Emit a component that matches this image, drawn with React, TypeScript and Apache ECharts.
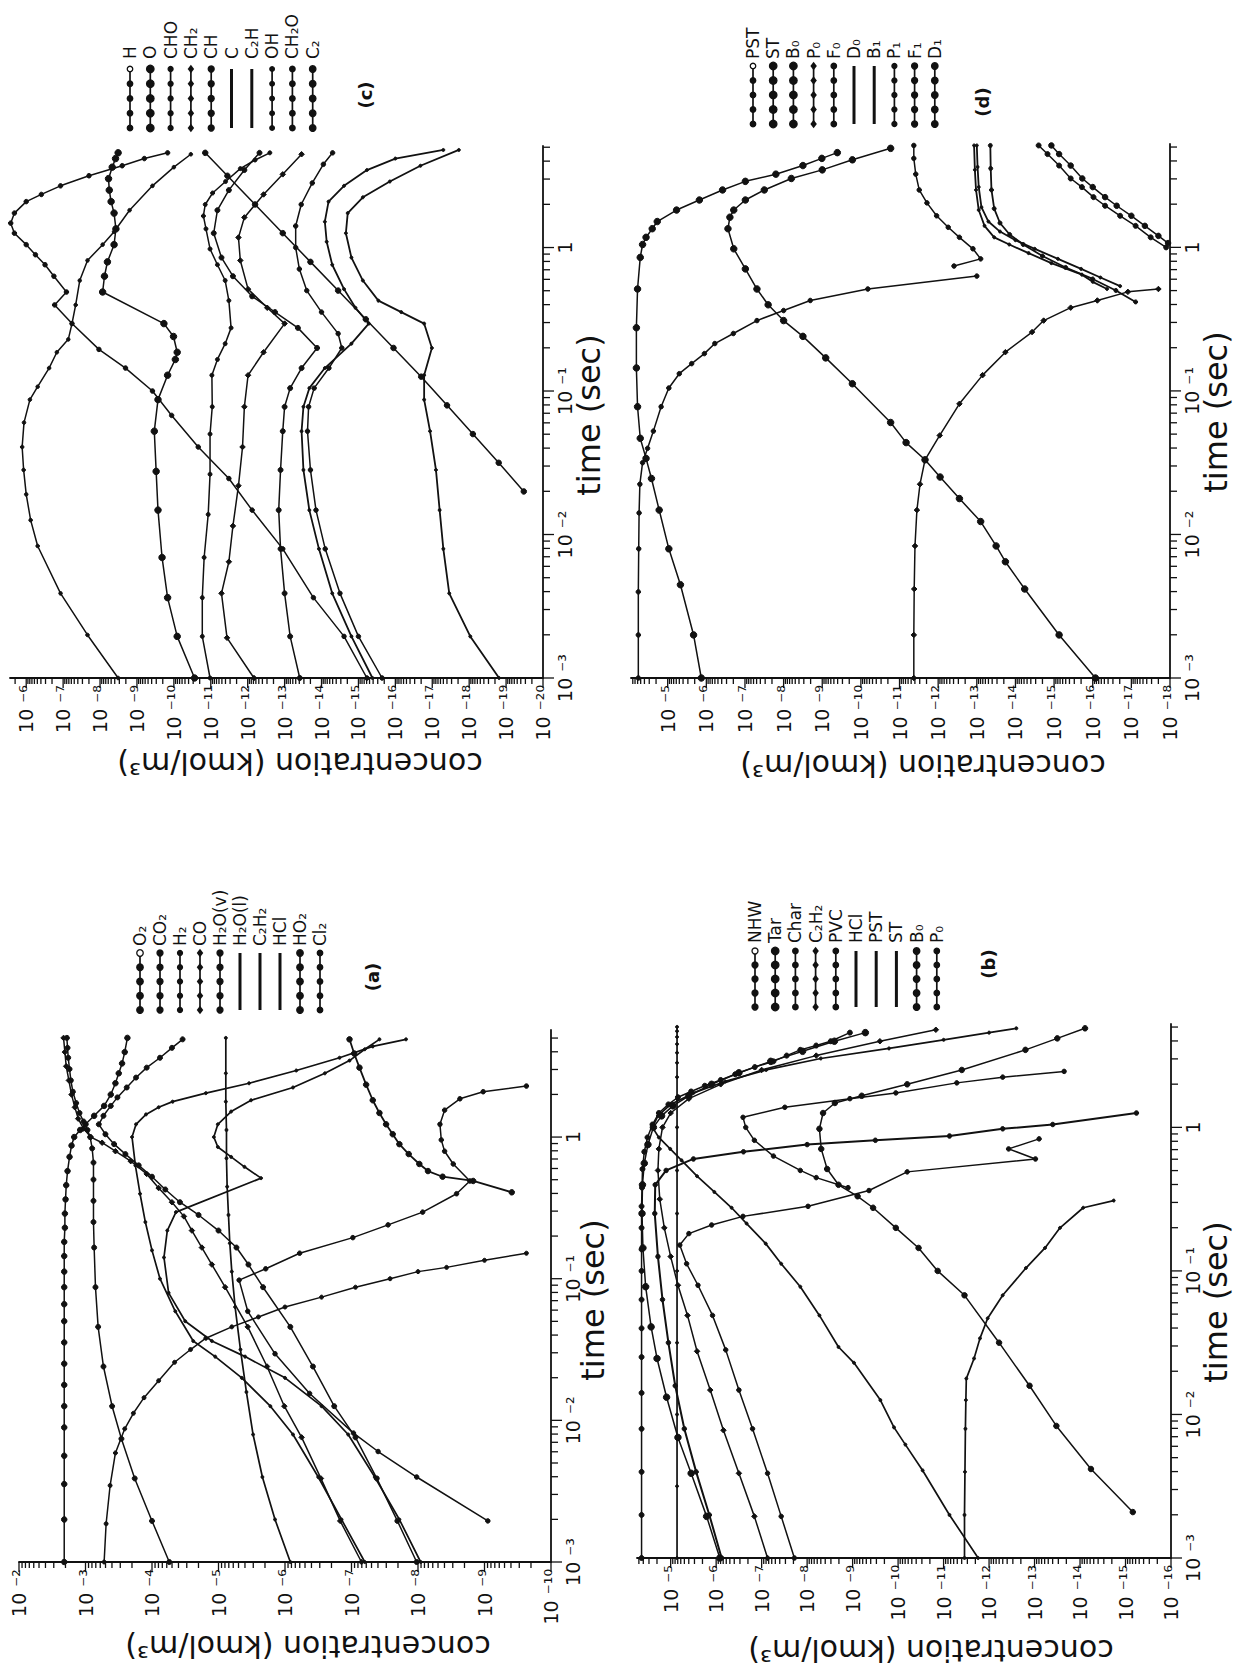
import React, { useEffect, useRef } from "react";
import * as echarts from "echarts";

// Every point is [log10 time (s), log10 concentration (kmol/m^3)].
type LP = [number, number];

// ---------------- panel (a) ----------------
const a_O2: LP[] = [[-3,-2.68],[-2.7,-2.68],[-2.45,-2.68],[-2.25,-2.68],[-2.05,-2.68],[-1.9,-2.68],[-1.75,-2.68],[-1.6,-2.68],[-1.45,-2.68],[-1.3,-2.68],[-1.18,-2.68],[-1.06,-2.68],[-0.95,-2.68],[-0.84,-2.68],[-0.74,-2.68],[-0.64,-2.69],[-0.54,-2.69],[-0.44,-2.7],[-0.34,-2.71],[-0.24,-2.73],[-0.14,-2.76],[-0.06,-2.79],[0,-2.83],[0.05,-2.92],[0.09,-3.0],[0.15,-3.13],[0.22,-3.28],[0.3,-3.38],[0.38,-3.45],[0.45,-3.5],[0.52,-3.55],[0.6,-3.59],[0.7,-3.63]];
const a_CO2: LP[] = [[-3,-4.26],[-2.71,-4.0],[-2.41,-3.74],[-2.13,-3.54],[-1.9,-3.4],[-1.62,-3.27],[-1.34,-3.19],[-1.06,-3.15],[-0.78,-3.13],[-0.6,-3.12],[-0.45,-3.12],[-0.3,-3.12],[-0.18,-3.12],[-0.08,-3.1],[0,-3.07],[0.05,-3.03],[0.11,-2.97],[0.17,-2.91],[0.24,-2.86],[0.32,-2.81],[0.4,-2.78],[0.48,-2.76],[0.56,-2.74],[0.63,-2.73],[0.7,-2.72]];
const a_H2: LP[] = [[-3,-3.28],[-2.73,-3.31],[-2.46,-3.37],[-2.23,-3.45],[-2.06,-3.59],[-1.95,-3.72],[-1.84,-3.88],[-1.72,-4.1],[-1.59,-4.34],[-1.5,-4.58],[-1.42,-4.81],[-1.34,-5.2],[-1.27,-5.6],[-1.2,-6.0],[-1.13,-6.55],[-1.06,-7.06],[-1.0,-7.58],[-0.95,-8.0],[-0.92,-8.43],[-0.87,-9.0],[-0.82,-9.63]];
const a_CO: LP[] = [[-3,-7.15],[-2.71,-6.83],[-2.41,-6.54],[-2.12,-6.25],[-1.9,-5.99],[-1.62,-5.73],[-1.34,-5.44],[-1.06,-5.1],[-0.9,-4.9],[-0.78,-4.75],[-0.66,-4.6],[-0.56,-4.48],[-0.46,-4.3],[-0.36,-4.1],[-0.26,-3.92],[-0.17,-3.68],[-0.1,-3.45],[-0.04,-3.25],[0,-3.08],[0.06,-2.97],[0.13,-2.89],[0.21,-2.84],[0.3,-2.79],[0.4,-2.75],[0.5,-2.71],[0.6,-2.69],[0.7,-2.67]];
const a_H2Ov: LP[] = [[-3,-7.98],[-2.71,-7.69],[-2.41,-7.38],[-2.12,-7.06],[-1.9,-6.74],[-1.62,-6.42],[-1.34,-6.08],[-1.06,-5.67],[-0.9,-5.45],[-0.78,-5.27],[-0.66,-5.0],[-0.55,-4.7],[-0.46,-4.42],[-0.37,-4.2],[-0.28,-4.0],[-0.2,-3.8],[-0.12,-3.6],[-0.05,-3.43],[0.02,-3.3],[0.09,-3.2],[0.15,-3.27],[0.22,-3.38],[0.28,-3.48],[0.35,-3.62],[0.42,-3.76],[0.49,-3.92],[0.56,-4.12],[0.63,-4.3],[0.69,-4.46]];
const a_H2Ol: LP[] = [[-3,-6.08],[-2.7,-5.85],[-2.4,-5.66],[-2.1,-5.52],[-1.8,-5.42],[-1.5,-5.33],[-1.2,-5.25],[-0.95,-5.2],[-0.75,-5.17],[-0.55,-5.15],[-0.35,-5.13],[-0.15,-5.12],[0.05,-5.12],[0.25,-5.11],[0.45,-5.11],[0.7,-5.11]];
const a_C2H2: LP[] = [[-3,-7.2],[-2.7,-6.85],[-2.4,-6.5],[-2.1,-6.12],[-1.9,-5.78],[-1.7,-5.35],[-1.55,-4.95],[-1.44,-4.62],[-1.23,-4.35],[-1.0,-4.12],[-0.8,-4.0],[-0.6,-3.9],[-0.4,-3.82],[-0.2,-3.75],[0,-3.7],[0.09,-3.76],[0.16,-3.91],[0.21,-4.1],[0.25,-4.31],[0.31,-4.81],[0.38,-5.46],[0.47,-6.17],[0.56,-6.82],[0.64,-7.32],[0.69,-7.82]];
const a_HCl: LP[] = [[-3,-8.04],[-2.7,-7.72],[-2.4,-7.35],[-2.1,-6.95],[-1.9,-6.55],[-1.7,-6.0],[-1.55,-5.4],[-1.44,-4.9],[-1.3,-4.5],[-1.1,-4.25],[-0.85,-4.18],[-0.66,-4.23],[-0.53,-4.36],[-0.29,-5.64],[-0.21,-5.39],[-0.14,-5.19],[-0.07,-4.99],[0,-4.93],[0.09,-4.99],[0.18,-5.19],[0.26,-5.49],[0.35,-6.12],[0.45,-6.6],[0.54,-6.97],[0.62,-7.2],[0.69,-7.42]];
const a_HO2: LP[] = [[-0.39,-9.41],[-0.31,-8.83],[-0.28,-8.37],[-0.24,-8.15],[-0.19,-8.02],[-0.12,-7.86],[-0.05,-7.72],[0.02,-7.62],[0.09,-7.52],[0.17,-7.42],[0.26,-7.32],[0.37,-7.22],[0.49,-7.12],[0.59,-7.04],[0.69,-6.97]];
const a_Cl2: LP[] = [[-2.71,-9.05],[-2.4,-7.98],[-2.22,-7.4],[-2.09,-7.03],[-1.81,-6.37],[-1.53,-5.85],[-1.23,-5.44],[-1.01,-5.31],[-0.93,-5.71],[-0.82,-6.22],[-0.71,-7.02],[-0.62,-7.55],[-0.53,-8.07],[-0.4,-8.58],[-0.31,-8.78],[-0.19,-8.53],[-0.1,-8.4],[-0.02,-8.35],[0.09,-8.33],[0.19,-8.4],[0.27,-8.63],[0.32,-8.98],[0.36,-9.63]];
const namesA = ["O₂", "CO₂", "H₂", "CO", "H₂O(v)", "H₂O(l)", "C₂H₂", "HCl", "HO₂", "Cl₂"];

// ---------------- panel (b) ----------------
const b_NHW: LP[] = [[-3,-4.36],[-2.7,-4.36],[-2.4,-4.36],[-2.1,-4.36],[-1.85,-4.36],[-1.6,-4.36],[-1.4,-4.36],[-1.2,-4.36],[-1.0,-4.36],[-0.85,-4.36],[-0.7,-4.36],[-0.55,-4.36],[-0.42,-4.37],[-0.29,-4.38],[-0.17,-4.42],[-0.07,-4.49],[0.02,-4.6],[0.1,-4.74],[0.16,-4.95],[0.21,-5.16],[0.25,-5.45],[0.29,-5.75],[0.33,-6.1],[0.37,-6.42],[0.42,-6.85],[0.46,-7.26],[0.5,-7.55],[0.54,-7.85],[0.57,-8.2],[0.6,-8.52],[0.66,-8.94]];
const b_Tar: LP[] = [[-3,-6.08],[-2.71,-5.79],[-2.41,-5.45],[-2.16,-5.16],[-1.88,-4.91],[-1.61,-4.7],[-1.39,-4.57],[-1.11,-4.45],[-0.84,-4.39],[-0.6,-4.37],[-0.4,-4.38],[-0.25,-4.42],[-0.12,-4.5],[0,-4.62],[0.08,-4.8],[0.15,-5.05],[0.22,-5.4],[0.3,-5.9],[0.38,-6.5],[0.46,-7.2],[0.53,-7.9],[0.6,-8.6],[0.66,-9.28]];
const b_Char: LP[] = [[-3,-6.12],[-2.7,-5.85],[-2.4,-5.56],[-2.1,-5.3],[-1.8,-5.1],[-1.5,-4.95],[-1.2,-4.82],[-0.9,-4.72],[-0.6,-4.65],[-0.4,-4.66],[-0.3,-4.9],[-0.22,-5.5],[-0.17,-6.6],[-0.12,-8.0],[-0.09,-9.5],[-0.06,-11.13],[-0.01,-12.3],[0.02,-13.4],[0.1,-15.24]];
const b_C2H2: LP[] = [[-3,-7.13],[-2.71,-6.84],[-2.41,-6.5],[-2.11,-6.16],[-1.83,-5.87],[-1.56,-5.58],[-1.31,-5.37],[-1.1,-5.16],[-0.9,-5.0],[-0.7,-4.86],[-0.5,-4.76],[-0.3,-4.72],[-0.15,-4.74],[0,-4.82],[0.1,-5.0],[0.2,-5.4],[0.3,-6.1],[0.4,-7.0],[0.5,-8.2],[0.6,-9.6],[0.68,-10.83]];
const b_PVC: LP[] = [[-3,-7.72],[-2.71,-7.43],[-2.41,-7.13],[-2.1,-6.8],[-1.83,-6.5],[-1.55,-6.21],[-1.31,-5.92],[-1.1,-5.6],[-0.95,-5.35],[-0.82,-5.2],[-0.74,-5.4],[-0.68,-5.9],[-0.62,-6.59],[-0.55,-8.02],[-0.44,-9.36],[-0.31,-10.2],[-0.22,-13.02],[-0.15,-12.43],[-0.08,-13.1]];
const b_HCl: LP[] = [[-3,-5.14],[-2.5,-5.14],[-2.0,-5.14],[-1.5,-5.14],[-1.0,-5.14],[-0.6,-5.14],[-0.3,-5.14],[0,-5.14],[0.2,-5.14],[0.35,-5.14],[0.45,-5.14],[0.52,-5.14],[0.58,-5.14],[0.63,-5.14],[0.67,-5.14],[0.7,-5.14]];
const b_PST: LP[] = [[-3,-11.46],[-2.7,-11.46],[-2.4,-11.47],[-2.1,-11.48],[-1.9,-11.49],[-1.75,-11.5],[-1.61,-11.67],[-1.47,-11.8],[-1.33,-11.97],[-1.17,-12.3],[-0.98,-12.81],[-0.84,-13.23],[-0.7,-13.56],[-0.56,-14.07],[-0.51,-14.74]];
const b_ST: LP[] = [[-3,-11.76],[-2.7,-11.13],[-2.39,-10.54],[-2.21,-10.16],[-2.09,-9.91],[-1.9,-9.61],[-1.64,-9.03],[-1.53,-8.69],[-1.31,-8.27],[-1.11,-7.85],[-0.95,-7.43],[-0.81,-7.09],[-0.67,-6.67],[-0.56,-6.34],[-0.45,-5.96],[-0.34,-5.58],[-0.23,-5.24],[-0.15,-4.99],[-0.07,-4.74],[0,-4.6],[0.08,-4.72],[0.16,-5.0],[0.24,-5.5],[0.32,-6.2],[0.4,-7.1],[0.48,-8.3],[0.55,-9.8],[0.61,-11.0],[0.66,-12.0],[0.69,-12.6]];
const b_B0: LP[] = [[-2.68,-15.16],[-2.38,-14.24],[-2.08,-13.48],[-1.8,-12.89],[-1.5,-12.22],[-1.17,-11.46],[-1.0,-10.87],[-0.84,-10.45],[-0.7,-9.95],[-0.56,-9.45],[-0.48,-9.11],[-0.4,-8.69],[-0.29,-8.44],[-0.15,-8.31],[-0.01,-8.27],[0.1,-8.35],[0.17,-8.61],[0.22,-9.2],[0.3,-10.2],[0.4,-11.4],[0.54,-12.8],[0.62,-13.5],[0.69,-14.11]];
const b_P0: LP[] = [[-0.42,-8.9],[-0.35,-8.2],[-0.3,-7.85],[-0.2,-7.26],[-0.09,-6.84],[0,-6.65],[0.07,-6.59],[0.14,-7.51],[0.2,-8.94],[0.24,-9.95],[0.31,-11.29],[0.35,-12.3],[0.39,-13.65]];
const namesB = ["NHW", "Tar", "Char", "C₂H₂", "PVC", "HCl", "PST", "ST", "B₀", "P₀"];

// ---------------- panel (c) ----------------
const c_H: LP[] = [[-3,-15.23],[-2.71,-14.61],[-2.44,-13.78],[-2.1,-12.95],[-1.83,-12.12],[-1.61,-11.49],[-1.39,-10.66],[-1.17,-9.94],[-1.0,-9.42],[-0.84,-8.69],[-0.71,-7.97],[-0.53,-7.24],[-0.4,-6.77],[-0.31,-7.09],[-0.2,-6.75],[-0.12,-6.51],[-0.05,-6.25],[0.02,-6.0],[0.1,-5.68],[0.17,-5.58],[0.24,-5.68],[0.32,-6.0],[0.37,-6.41],[0.43,-6.93],[0.5,-7.7],[0.57,-8.6],[0.62,-9.2],[0.66,-9.83]];
const c_O: LP[] = [[-3,-10.56],[-2.71,-10.09],[-2.44,-9.83],[-2.16,-9.68],[-1.83,-9.57],[-1.56,-9.52],[-1.28,-9.47],[-1.06,-9.57],[-0.89,-9.83],[-0.78,-10.04],[-0.73,-10.09],[-0.62,-9.99],[-0.53,-9.73],[-0.31,-8.07],[-0.2,-8.12],[-0.1,-8.2],[0.02,-8.38],[0.13,-8.43],[0.24,-8.38],[0.32,-8.3],[0.4,-8.25],[0.48,-8.23],[0.56,-8.33],[0.62,-8.42],[0.66,-8.49]];
const c_CHO: LP[] = [[-3,-10.98],[-2.71,-10.77],[-2.44,-10.77],[-2.16,-10.82],[-1.86,-10.93],[-1.58,-10.98],[-1.3,-10.98],[-1.11,-11.04],[-0.89,-11.03],[-0.78,-11.18],[-0.67,-11.39],[-0.56,-11.55],[-0.37,-11.49],[-0.23,-11.39],[-0.12,-11.18],[-0.01,-10.98],[0.13,-10.87],[0.22,-10.8],[0.3,-10.85],[0.38,-11.05],[0.46,-11.4],[0.55,-11.8],[0.61,-12.2],[0.66,-12.6]];
const c_CH2: LP[] = [[-3,-12.17],[-2.72,-11.44],[-2.41,-11.29],[-2.19,-11.49],[-1.94,-11.6],[-1.66,-11.75],[-1.39,-11.86],[-1.11,-11.91],[-0.89,-12.01],[-0.73,-12.43],[-0.53,-13.0],[-0.42,-12.53],[-0.29,-12.01],[-0.09,-11.8],[0.07,-11.75],[0.21,-11.91],[0.37,-12.43],[0.51,-12.95],[0.65,-13.46]];
const c_CH: LP[] = [[-3,-13.41],[-2.71,-13.15],[-2.41,-13.0],[-2.1,-12.89],[-1.83,-12.84],[-1.55,-12.89],[-1.28,-12.95],[-1.11,-13.0],[-0.98,-13.15],[-0.84,-13.46],[-0.7,-13.88],[-0.56,-13.36],[-0.45,-12.74],[-0.34,-12.12],[-0.2,-11.6],[-0.07,-11.29],[0.1,-11.08],[0.26,-11.18],[0.4,-11.49],[0.54,-11.91],[0.66,-12.32]];
const c_C: LP[] = [[-3,-15.38],[-2.71,-14.81],[-2.41,-14.29],[-2.1,-13.93],[-1.83,-13.67],[-1.55,-13.51],[-1.28,-13.46],[-1.11,-13.51],[-0.98,-13.67],[-0.84,-14.09],[-0.67,-14.81],[-0.53,-15.28],[-0.42,-14.92],[-0.29,-14.61],[-0.12,-14.29],[0.04,-14.14],[0.18,-14.09],[0.32,-14.19],[0.43,-14.61],[0.54,-15.23],[0.62,-16.0],[0.68,-17.3]];
const c_C2H: LP[] = [[-3,-18.81],[-2.71,-18.03],[-2.41,-17.46],[-2.1,-17.3],[-1.83,-17.2],[-1.55,-17.1],[-1.28,-16.94],[-1.06,-16.78],[-0.89,-16.78],[-0.7,-16.99],[-0.53,-16.78],[-0.45,-16.16],[-0.37,-15.54],[-0.23,-15.12],[-0.07,-14.81],[0.1,-14.66],[0.24,-14.71],[0.35,-15.12],[0.46,-15.85],[0.57,-16.68],[0.68,-17.72]];
const c_OH: LP[] = [[-3,-8.49],[-2.7,-7.66],[-2.41,-6.93],[-2.08,-6.31],[-1.9,-6.12],[-1.72,-6.0],[-1.55,-5.93],[-1.39,-5.89],[-1.22,-5.94],[-1.06,-6.1],[-0.97,-6.31],[-0.84,-6.62],[-0.73,-6.83],[-0.64,-7.14],[-0.53,-7.24],[-0.4,-7.34],[-0.23,-7.45],[-0.09,-7.66],[0.02,-8.07],[0.11,-8.38],[0.26,-8.8],[0.43,-9.42],[0.56,-10.0],[0.65,-10.46]];
const c_CH2O: LP[] = [[-3,-15.64],[-2.71,-15.0],[-2.41,-14.5],[-2.1,-14.1],[-1.83,-13.85],[-1.55,-13.7],[-1.28,-13.62],[-1.11,-13.65],[-0.98,-13.8],[-0.84,-14.2],[-0.7,-14.55],[-0.6,-14.45],[-0.45,-14.0],[-0.3,-13.6],[-0.15,-13.4],[0,-13.3],[0.15,-13.3],[0.3,-13.45],[0.45,-13.75],[0.58,-14.05],[0.66,-14.3]];
const c_C2: LP[] = [[-1.7,-19.48],[-1.5,-18.8],[-1.3,-18.1],[-1.1,-17.4],[-0.9,-16.7],[-0.7,-15.95],[-0.5,-15.2],[-0.3,-14.45],[-0.1,-13.7],[0.1,-12.95],[0.3,-12.2],[0.5,-11.45],[0.66,-10.85]];
const namesC = ["H", "O", "CHO", "CH₂", "CH", "C", "C₂H", "OH", "CH₂O", "C₂"];

// ---------------- panel (d) ----------------
const d_PST: LP[] = [[-3,-4.24],[-2.7,-4.24],[-2.4,-4.24],[-2.1,-4.25],[-1.85,-4.26],[-1.65,-4.28],[-1.5,-4.35],[-1.4,-4.48],[-1.28,-4.63],[-1.11,-4.83],[-0.98,-5.03],[-0.88,-5.3],[-0.81,-5.62],[-0.74,-5.95],[-0.67,-6.22],[-0.6,-6.7],[-0.51,-7.31],[-0.44,-8.0],[-0.37,-8.69],[-0.29,-10.18],[-0.2,-13.0]];
const d_ST: LP[] = [[-3,-5.87],[-2.7,-5.67],[-2.35,-5.33],[-2.1,-5.03],[-1.83,-4.78],[-1.61,-4.58],[-1.47,-4.44],[-1.33,-4.29],[-1.11,-4.22],[-0.84,-4.19],[-0.56,-4.19],[-0.29,-4.22],[-0.07,-4.29],[0.02,-4.35],[0.07,-4.44],[0.13,-4.6],[0.18,-4.73],[0.26,-5.23],[0.33,-5.82],[0.4,-6.42],[0.46,-7.01],[0.51,-7.8],[0.57,-8.5],[0.62,-8.99],[0.66,-9.39]];
const d_B0: LP[] = [[-3,-16.07],[-2.7,-15.13],[-2.38,-14.24],[-2.19,-13.74],[-2.08,-13.5],[-1.91,-13.1],[-1.75,-12.55],[-1.6,-12.05],[-1.48,-11.66],[-1.36,-11.17],[-1.22,-10.77],[-0.95,-9.78],[-0.77,-9.09],[-0.62,-8.5],[-0.51,-8.0],[-0.4,-7.6],[-0.29,-7.31],[-0.15,-7.01],[-0.01,-6.71],[0.13,-6.56],[0.21,-6.61],[0.26,-6.71],[0.33,-7.01],[0.4,-7.5],[0.48,-8.2],[0.54,-9.0],[0.61,-9.78],[0.69,-10.77]];
const d_P0: LP[] = [[-3,-11.37],[-2.7,-11.37],[-2.38,-11.38],[-2.08,-11.4],[-1.83,-11.45],[-1.65,-11.53],[-1.48,-11.66],[-1.31,-12.04],[-1.09,-12.55],[-0.89,-13.15],[-0.73,-13.74],[-0.59,-14.43],[-0.51,-14.73],[-0.42,-15.43],[-0.37,-16.12],[-0.31,-16.91],[-0.29,-17.7]];
const d_F0: LP[] = [[-0.13,-12.41],[-0.08,-13.1],[-0.01,-12.9],[0.07,-12.55],[0.14,-12.26],[0.22,-11.96],[0.31,-11.71],[0.4,-11.51],[0.51,-11.42],[0.62,-11.37],[0.71,-11.37]];
const d_D0: LP[] = [[-0.29,-16.37],[-0.24,-16.0],[-0.19,-15.72],[-0.11,-14.93],[-0.04,-14.34],[0.02,-13.84],[0.07,-13.45],[0.15,-13.2],[0.26,-13.05],[0.4,-12.98],[0.54,-12.95],[0.71,-12.93]];
const d_B1: LP[] = [[-0.27,-16.71],[-0.21,-16.2],[-0.15,-15.7],[-0.08,-15.1],[-0.01,-14.5],[0.05,-14.0],[0.11,-13.6],[0.18,-13.3],[0.28,-13.12],[0.42,-13.05],[0.56,-13.02],[0.71,-13.0]];
const d_P1: LP[] = [[-0.38,-17.11],[-0.3,-16.6],[-0.22,-16.0],[-0.14,-15.3],[-0.06,-14.7],[0.02,-14.2],[0.09,-13.85],[0.17,-13.6],[0.27,-13.45],[0.4,-13.38],[0.55,-13.36],[0.71,-13.35]];
const d_F1: LP[] = [[0,-17.9],[0.07,-17.5],[0.15,-17.11],[0.22,-16.71],[0.29,-16.32],[0.35,-16.02],[0.42,-15.72],[0.48,-15.43],[0.57,-15.13],[0.65,-14.83],[0.71,-14.6]];
const d_D1: LP[] = [[0.03,-17.95],[0.08,-17.7],[0.15,-17.35],[0.22,-17.0],[0.29,-16.62],[0.35,-16.32],[0.42,-16.0],[0.48,-15.73],[0.57,-15.43],[0.65,-15.13],[0.71,-14.93]];
const namesD = ["PST", "ST", "B₀", "P₀", "F₀", "D₀", "B₁", "P₁", "F₁", "D₁"];

// ---------------- axis tick labels (exponents of ten) ----------------
const timeTickExp = [-3, -2, -1, 0];
const concTickExpA = [-10, -9, -8, -7, -6, -5, -4, -3, -2];
const concTickExpB = [-16, -15, -14, -13, -12, -11, -10, -9, -8, -7, -6, -5];
const concTickExpC = [-20, -19, -18, -17, -16, -15, -14, -13, -12, -11, -10, -9, -8, -7, -6];
const concTickExpD = [-18, -17, -16, -15, -14, -13, -12, -11, -10, -9, -8, -7, -6, -5];
const minorMult = [2, 3, 4, 5, 6, 7, 8, 9];

// ---------------- styles & layout ----------------
const INK = "#111111";
const FONT = '"DejaVu Sans", "Liberation Sans", sans-serif';
type St = { sym: string; size: number; w: number };
const dot = (size: number, w = 1.5): St => ({ sym: "circle", size, w });
const dia = (size: number, w = 1.5): St => ({ sym: "diamond", size, w });

const stylesA: St[] = [dot(5.5), dot(5), dot(4), dia(5.5), dot(5), dot(3, 1.7), dot(3, 1.7), dot(3, 1.7), dot(5.5, 1.8), dot(4.5)];
const stylesB: St[] = [dot(5), dot(6.5), dot(4.5, 2), dia(5.5), dot(4.5), dot(3, 1.7), dot(3, 1.7), dot(3, 1.7), dot(5.5), dot(4.5)];
const stylesC: St[] = [dot(4.5), dot(6.5), dot(4), dia(5.5), dot(5), dot(3, 1.8), dot(3, 1.8), dot(3.6), dot(4.5), dot(5.5)];
const stylesD: St[] = [dot(4.5), dot(6.5), dot(6.5), dia(5.5), dot(4.5), dot(3, 1.8), dot(3, 1.8), dot(4, 1.8), dot(5), dot(5.5)];

const PANELS = [
  {
    left: 10, top: 146, width: 533, height: 532, cMin: 1e-20, cMax: 2.75e-6, tMin: 1e-3, tMax: 5.1,
    concExp: concTickExpC, data: [c_H, c_O, c_CHO, c_CH2, c_CH, c_C, c_C2H, c_OH, c_CH2O, c_C2], names: namesC, styles: stylesC,
    legend: { x0: 130, dx: 20.3, y1: 69, y2: 128, labelY: 59 }, tag: { x: 365, y: 95, text: "(c)" },
    timeTitle: [589, 415], concTitle: [300, 763],
  },
  {
    left: 631, top: 144, width: 539, height: 534, cMin: 1e-18, cMax: 8.9e-5, tMin: 1e-3, tMax: 5.25,
    concExp: concTickExpD, data: [d_PST, d_ST, d_B0, d_P0, d_F0, d_D0, d_B1, d_P1, d_F1, d_D1], names: namesD, styles: stylesD,
    legend: { x0: 753, dx: 20.2, y1: 66, y2: 124, labelY: 59 }, tag: { x: 982, y: 102, text: "(d)" },
    timeTitle: [1216, 412], concTitle: [923, 765],
  },
  {
    left: 19, top: 1030, width: 532, height: 532, cMin: 1e-10, cMax: 1e-2, tMin: 1e-3, tMax: 5.7,
    concExp: concTickExpA, data: [a_O2, a_CO2, a_H2, a_CO, a_H2Ov, a_H2Ol, a_C2H2, a_HCl, a_HO2, a_Cl2], names: namesA, styles: stylesA,
    legend: { x0: 140, dx: 20, y1: 953, y2: 1010, labelY: 946 }, tag: { x: 372, y: 977, text: "(a)" },
    timeTitle: [593, 1300], concTitle: [308, 1646],
  },
  {
    left: 637, top: 1024, width: 534, height: 534, cMin: 1e-16, cMax: 5.5e-5, tMin: 1e-3, tMax: 5.25,
    concExp: concTickExpB, data: [b_NHW, b_Tar, b_Char, b_C2H2, b_PVC, b_HCl, b_PST, b_ST, b_B0, b_P0], names: namesB, styles: stylesB,
    legend: { x0: 755, dx: 20.2, y1: 951, y2: 1007, labelY: 943 }, tag: { x: 988, y: 964, text: "(b)" },
    timeTitle: [1216, 1302], concTitle: [931, 1650],
  },
];

const SUP: Record<string, string> = { "-": "⁻", "0": "⁰", "1": "¹", "2": "²", "3": "³", "4": "⁴", "5": "⁵", "6": "⁶", "7": "⁷", "8": "⁸", "9": "⁹" };
const powLabel = (e: number) => (e === 0 ? "1" : "10 " + String(e).split("").map((ch) => SUP[ch]).join(""));

function textStyle(text: string, size: number, align: string, valign: string, weight = "normal") {
  return {
    text, fill: INK, font: `${weight} ${size}px ${FONT}`,
    align, verticalAlign: valign, textAlign: align, textVerticalAlign: valign,
  };
}

function buildOption() {
  const grid: any[] = [];
  const xAxis: any[] = [];
  const yAxis: any[] = [];
  const series: any[] = [];
  const graphic: any[] = [];

  PANELS.forEach((p, i) => {
    grid.push({ left: p.left, top: p.top, width: p.width, height: p.height, containLabel: false });
    const axisCommon = {
      gridIndex: i, type: "log", logBase: 10,
      axisLine: { show: true, onZero: false, lineStyle: { color: INK, width: 1.8 } },
      axisTick: { show: false }, axisLabel: { show: false }, splitLine: { show: false },
    };
    xAxis.push({ ...axisCommon, min: p.cMin, max: p.cMax, inverse: true, position: "bottom" });
    yAxis.push({ ...axisCommon, min: p.tMin, max: p.tMax, position: "right" });

    p.data.forEach((arr, k) => {
      const st = p.styles[k];
      series.push({
        type: "line", name: p.names[k], xAxisIndex: i, yAxisIndex: i,
        data: arr.map(([lt, lc]) => [Math.pow(10, lc), Math.pow(10, lt)]),
        symbol: st.sym, symbolSize: st.size, showSymbol: true, showAllSymbol: true,
        lineStyle: { color: INK, width: st.w }, itemStyle: { color: INK, borderColor: INK },
        silent: true, z: 3, clip: true,
      });
    });

    // ticks + tick labels, placed through the axes' own scales
    const items: number[][] = [];
    const kinds: number[] = [];
    const labels: string[] = [];
    const lcMin = Math.log10(p.cMin), lcMax = Math.log10(p.cMax);
    for (let e = Math.floor(lcMin); e <= Math.ceil(lcMax); e++) {
      [1, ...minorMult].forEach((m) => {
        const v = m * Math.pow(10, e);
        const lv = Math.log10(v);
        if (lv < lcMin - 1e-9 || lv > lcMax + 1e-9) return;
        items.push([v, p.tMin]);
        kinds.push(m === 1 ? 0 : 1);
        labels.push(m === 1 && p.concExp.includes(e) ? powLabel(e) : "");
      });
    }
    const ltMin = Math.log10(p.tMin), ltMax = Math.log10(p.tMax);
    for (let e = Math.floor(ltMin); e <= Math.ceil(ltMax); e++) {
      [1, ...minorMult].forEach((m) => {
        const v = m * Math.pow(10, e);
        const lv = Math.log10(v);
        if (lv < ltMin - 1e-9 || lv > ltMax + 1e-9) return;
        items.push([p.cMin, v]);
        kinds.push(m === 1 ? 2 : 3);
        labels.push(m === 1 && timeTickExp.includes(e) ? powLabel(e) : "");
      });
    }
    series.push({
      type: "custom", xAxisIndex: i, yAxisIndex: i, clip: false, silent: true, z: 4,
      data: items,
      renderItem: (params: any, api: any) => {
        const idx = params.dataIndex;
        const pt = api.coord([api.value(0), api.value(1)]);
        const k = kinds[idx];
        const lab = labels[idx];
        const children: any[] = [];
        if (k === 0 || k === 1) {
          const len = k === 0 ? 10 : 6;
          children.push({ type: "line", shape: { x1: pt[0], y1: pt[1], x2: pt[0], y2: pt[1] + len }, style: { stroke: INK, lineWidth: 1.3 } });
          if (lab) children.push({ type: "text", x: pt[0], y: pt[1] + 7, rotation: Math.PI / 2, style: textStyle(lab, 19, "right", "middle") });
        } else {
          const len = k === 2 ? 11 : 7;
          children.push({ type: "line", shape: { x1: pt[0], y1: pt[1], x2: pt[0] + len, y2: pt[1] }, style: { stroke: INK, lineWidth: 1.3 } });
          if (lab) children.push({ type: "text", x: pt[0] + 12, y: pt[1], rotation: Math.PI / 2, style: textStyle(lab, 19, "center", "top") });
        }
        return { type: "group", children };
      },
    });

    // axis titles
    graphic.push({ type: "text", x: p.timeTitle[0], y: p.timeTitle[1], rotation: Math.PI / 2, style: textStyle("time (sec)", 32, "center", "middle") });
    graphic.push({ type: "text", x: p.concTitle[0], y: p.concTitle[1], rotation: Math.PI, style: textStyle("concentration (kmol/m³)", 30, "center", "middle") });
    // panel tag
    graphic.push({ type: "text", x: p.tag.x, y: p.tag.y, rotation: Math.PI / 2, style: textStyle(p.tag.text, 18, "center", "middle", "bold") });

    // legend: vertical sample lines with labels reading upward
    const L = p.legend;
    p.names.forEach((nm, k) => {
      const st = p.styles[k];
      const x = L.x0 + k * L.dx;
      const solid = st.size <= 3;
      graphic.push({ type: "line", shape: { x1: x, y1: L.y1, x2: x, y2: L.y2 }, style: { stroke: INK, lineWidth: solid ? 3 : 1.7 } });
      if (!solid) {
        for (let j = 0; j < 5; j++) {
          const y = L.y1 + (j * (L.y2 - L.y1)) / 4;
          const r = st.size / 2 + 0.5;
          if (st.sym === "diamond") {
            graphic.push({ type: "polygon", shape: { points: [[x, y - r - 1], [x + r, y], [x, y + r + 1], [x - r, y]] }, style: { fill: INK } });
          } else {
            const open = k === 0 && j === 0;
            graphic.push({ type: "circle", shape: { cx: x, cy: y, r }, style: { fill: open ? "#fff" : INK, stroke: INK, lineWidth: 1.3 } });
          }
        }
      }
      graphic.push({ type: "text", x, y: L.labelY, rotation: Math.PI / 2, style: textStyle(nm, 17, "left", "middle") });
    });
  });

  return {
    animation: false,
    backgroundColor: "#ffffff",
    grid, xAxis, yAxis, series, graphic,
  };
}

export default function App() {
  const ref = useRef<HTMLDivElement | null>(null);
  useEffect(() => {
    if (!ref.current) return;
    const chart = echarts.init(ref.current, undefined, { renderer: "svg" });
    chart.setOption(buildOption() as any);
    return () => chart.dispose();
  }, []);
  return (
    <div
      ref={ref}
      style={{ position: "absolute", left: 0, top: 0, width: 1234, height: 1672, background: "#fff" }}
    />
  );
}
